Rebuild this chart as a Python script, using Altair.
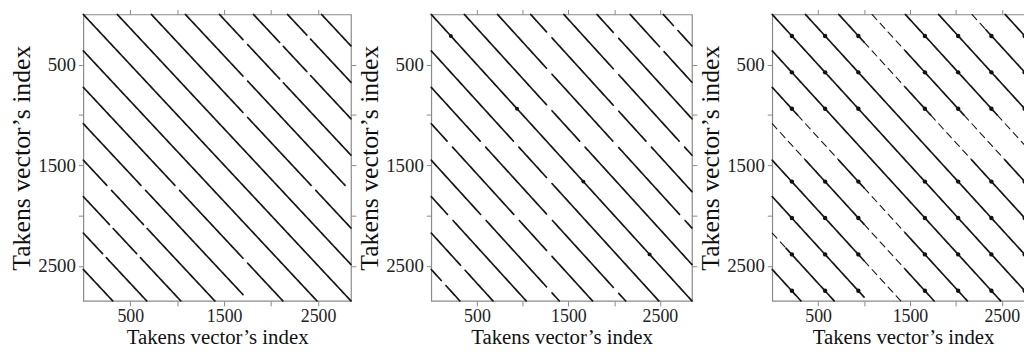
import altair as alt
import pandas as pd

N = 2850
TICKS = [500, 1000, 1500, 2000, 2500]
TITLE = "Takens vector\u2019s index"

# Panel 1: diagonal lag, start, end (position along the line), kind
P1_LAG = [0, 362, 725, 725, 725, 1087, 1087, 1450, 1450, 1450, 1812, 1812, 1812, 2175, 2175, 2537]
P1_START = [0, 0, 0, 1025, 1750, 0, 663, 0, 300, 680, 0, 318, 608, 0, 245, 0]
P1_END = [2850, 2488, 975, 1700, 2125, 613, 1700, 250, 640, 1400, 278, 568, 1038, 205, 675, 313]
P1_KIND = ["strong"] * 16

# Panel 2
P2_LAG = [0, 362, 362, 362, 725, 725, 725, 725, 1087, 1087, 1087, 1087,
          1450, 1450, 1450, 1812, 1812, 2175, 2175, 2537, 2537]
P2_START = [0, 0, 958, 1320, 0, 595, 1325, 2050, 0, 233, 963, 1320,
            0, 600, 1320, 0, 238, 0, 370, 0, 160]
P2_END = [2850, 898, 1260, 2488, 535, 1260, 1990, 2125, 173, 903, 1260, 1763,
          540, 1260, 1400, 178, 1038, 320, 675, 110, 313]
P2_KIND = ["strong"] * 21
P2_DOT_X = [214, 938, 1663, 2387]
P2_DOT_Y = [214, 938, 1663, 2387]

# Panel 3
P3_LAG = [0, 362, 725, 725, 725, 725, 725, 1087, 1087, 1087, 1087,
          1450, 1450, 1812, 2175, 2175, 2537]
P3_START = [0, 0, 0, 275, 725, 1000, 1450, 0, 363, 1000, 1450,
            0, 1000, 0, 0, 150, 0]
P3_END = [2850, 2488, 275, 725, 1000, 1450, 2125, 363, 1000, 1450, 1763,
          1000, 1400, 1000, 150, 675, 313]
P3_KIND = ["strong", "strong", "strong", "weak", "strong", "weak", "strong",
           "weak", "strong", "weak", "strong", "strong", "weak", "strong",
           "weak", "strong", "strong"]
P3_DOT_POS = [214, 576, 938, 1663, 2025, 2387, 2749]


def segments(lags, starts, ends, kinds):
    rows = []
    for l, s, e, k in zip(lags, starts, ends, kinds):
        rows.append(dict(x=s, y=s + l, x2=e, y2=e + l, kind=k))
        if l > 0:
            rows.append(dict(x=s + l, y=s, x2=e + l, y2=e, kind=k))
    return pd.DataFrame(rows)


def panel(seg, dots, w, h, dot_size):
    xs = alt.Scale(domain=[0, N], nice=False, zero=False)
    ys = alt.Scale(domain=[0, N], nice=False, zero=False, reverse=True)
    lab = "datum.value % 1000 == 0 ? '' : datum.label"
    ax_b = alt.Axis(orient="bottom", values=TICKS, format="d", labelExpr=lab,
                    title=TITLE, titleFontSize=21, titlePadding=1,
                    labelPadding=2, labelFontSize=18)
    ax_l = alt.Axis(orient="left", values=TICKS, format="d", labelExpr=lab,
                    title=TITLE, titleFontSize=26, titlePadding=3,
                    labelPadding=3, labelFontSize=19)
    ax_t = alt.Axis(orient="top", values=TICKS, labels=False, title=None, minExtent=0)
    ax_r = alt.Axis(orient="right", values=TICKS, labels=False, title=None, minExtent=0)
    kinds = ["strong", "weak"]
    lines = alt.Chart(seg).mark_rule(color="#161616", strokeCap="round").encode(
        x=alt.X("x:Q", scale=xs, axis=ax_b),
        y=alt.Y("y:Q", scale=ys, axis=ax_l),
        x2="x2:Q",
        y2="y2:Q",
        strokeWidth=alt.StrokeWidth("kind:N", scale=alt.Scale(domain=kinds, range=[1.7, 1.1]), legend=None),
        strokeDash=alt.StrokeDash("kind:N", scale=alt.Scale(domain=kinds, range=[[1, 0], [7, 5]]), legend=None),
    )
    layers = [lines]
    if dots is not None:
        layers.append(
            alt.Chart(dots).mark_circle(size=dot_size, color="#111111", opacity=1).encode(
                x=alt.X("x:Q", axis=None), y=alt.Y("y:Q", axis=None)
            )
        )
    frame = alt.Chart(seg).mark_point(opacity=0).encode(
        x=alt.X("x:Q", scale=xs, axis=ax_t),
        y=alt.Y("y:Q", scale=ys, axis=ax_r),
    )
    layers.append(frame)
    return alt.layer(*layers).resolve_axis(x="independent", y="independent").properties(width=w, height=h)


seg1 = segments(P1_LAG, P1_START, P1_END, P1_KIND)
seg2 = segments(P2_LAG, P2_START, P2_END, P2_KIND)
seg3 = segments(P3_LAG, P3_START, P3_END, P3_KIND)
dots2 = pd.DataFrame({"x": P2_DOT_X, "y": P2_DOT_Y})
dots3 = pd.DataFrame([{"x": a, "y": b} for a in P3_DOT_POS for b in P3_DOT_POS])

p1 = panel(seg1, None, 270, 289, 0)
p2 = panel(seg2, dots2, 263, 289, 16)
p3 = panel(seg3, dots3, 264, 289, 20)

chart = alt.hconcat(p1, p2, p3, spacing=-2).properties(
    padding={"left": 0, "top": -2, "right": -17, "bottom": 0},
    background="white",
).configure_view(stroke="#8a8a8a", strokeWidth=1.2).configure_axis(
    grid=False, domain=False, tickColor="#8a8a8a", tickSize=5, tickWidth=1,
    labelFont="Liberation Serif", labelColor="#222222",
    titleFont="Liberation Serif", titleFontWeight="normal", titleColor="#111111",
)

chart.save("out.html", embed_options={"renderer": "svg", "actions": False})
